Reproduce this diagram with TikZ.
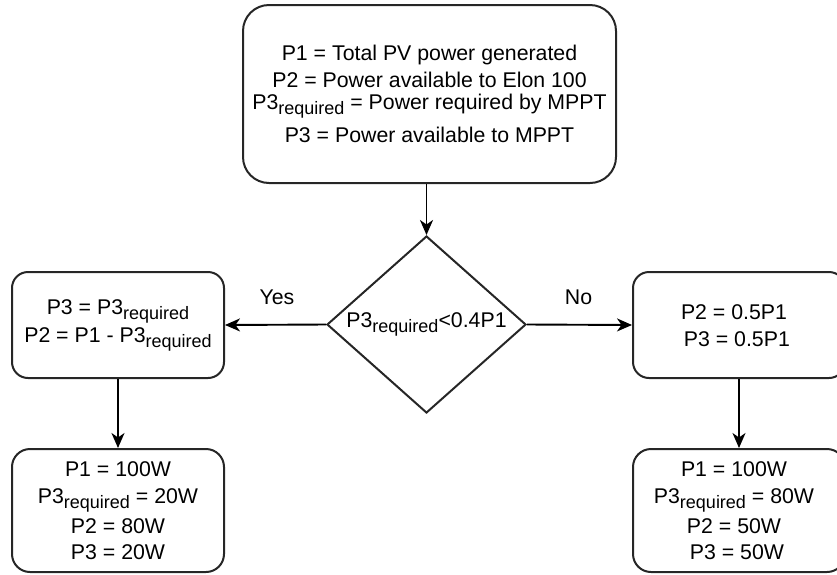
\documentclass[tikz,border=0pt]{standalone}
\usepackage{fontspec}
\setmainfont{Liberation Sans}
\usetikzlibrary{shapes.geometric,arrows.meta}
% lowered "required" subscript
\newcommand\reqsub{\raisebox{-5pt}{\fontsize{18pt}{18pt}\selectfont required}}

\begin{document}
\begin{tikzpicture}[x=1pt,y=-1pt,
  every node/.style={font=\fontsize{21.3pt}{27pt}\selectfont, text=black},
  card/.style={draw=black!85, line width=2pt, inner sep=0pt, align=center},
  flow/.style={draw=black, line width=1.9pt, -{Stealth[length=15pt,width=13pt,inset=4.5pt]}},
  tag/.style={inner sep=0pt, align=center}
]
\path[use as bounding box, clip] (0,0) rectangle (837,574);

% definitions
\node[card, rounded corners=26pt, minimum width=373pt, minimum height=178pt] (defs) at (429.5,94)
  {P1 = Total PV power generated\\
   P2 = Power available to Elon 100\\[-4.4pt]
   P3\reqsub{} = Power required by MPPT\\[6pt]
   P3 = Power available to MPPT};

% decision
\node[card, diamond, aspect=1.124, minimum width=199pt, minimum height=177pt] (test) at (426.5,324.5)
  {P3\reqsub{}<0.4P1};

% yes branch
\node[card, rounded corners=16pt, minimum width=212pt, minimum height=106pt] (yesbox) at (118,325)
  {P3 = P3\reqsub\\[1pt] P2 = P1 - P3\reqsub};
\node[card, rounded corners=18pt, minimum width=212pt, minimum height=123pt] (yesres) at (118,510.5)
  {P1 = 100W\\ P3\reqsub{} = 20W\\[3pt] P2 = 80W\\[-1pt] P3 = 20W};

% no branch
\node[card, rounded corners=16pt, minimum width=212pt, minimum height=106pt] (nobox) at (739,325) {};
\node[tag] (notext) at (734,325.5) {P2 = 0.5P1\\ \hspace*{5.8pt}P3 = 0.5P1};
\node[card, rounded corners=18pt, minimum width=212pt, minimum height=123pt] (nores) at (739,510.5) {};
\node[tag] (norestext) at (734,510.5)
  {P1 = 100W\\ P3\reqsub{} = 80W\\[3pt] P2 = 50W\\[-1pt] \hspace*{5.8pt}P3 = 50W};

% connectors
\draw[flow] (defs.south -| test.north) -- (test.north);
\draw[flow] (test.west) -- (yesbox.east);
\draw[flow] (test.east) -- (nobox.west);
\draw[flow] (yesbox.south) -- (yesres.north);
\draw[flow] (nobox.south) -- (nores.north);

% branch labels
\node[tag] (yes) at (277,297.5) {Yes};
\node[tag] (no) at (578.5,297.5) {No};
\end{tikzpicture}
\end{document}
